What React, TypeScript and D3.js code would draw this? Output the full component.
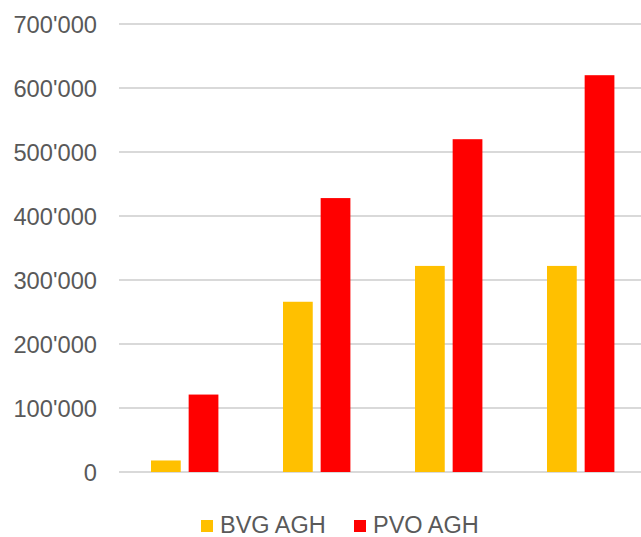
import React from "react";
import * as d3 from "d3";

const categories = ["A", "B", "C", "D"];
const seriesNames = ["BVG AGH", "PVO AGH"];
const bvgValues = [18000, 266000, 322000, 322000];
const pvoValues = [121000, 428000, 520000, 620000];
const yTicks = [0, 100000, 200000, 300000, 400000, 500000, 600000, 700000];
const colors = ["#FFC000", "#FF0000"];

const W = 641;
const H = 537;

export default function App() {
  const y = d3.scaleLinear().domain([0, 700000]).range([472, 24]);
  const x = d3.scaleBand<string>().domain(categories).range([119, 647]).paddingInner(0).paddingOuter(0);
  const inner = d3.scaleBand<string>().domain(seriesNames).range([32, 99.4]).paddingInner(0.21);
  const fmt = (v: number) => d3.format(",")(v).replace(/,/g, "'");
  const series = [bvgValues, pvoValues];
  const font = "'Liberation Sans', Arial, sans-serif";
  return (
    <svg width={W} height={H} style={{ position: "absolute", left: 0, top: 0 }}>
      <rect width={W} height={H} fill="#fff" />
      {yTicks.map((t) => (
        <g key={t}>
          <line x1={119} x2={641} y1={y(t)} y2={y(t)} stroke="#d9d9d9" strokeWidth={2} />
          <text x={97} y={y(t) + 8.5} textAnchor="end" fontFamily={font} fontSize={23.7} fill="#595959">
            {fmt(t)}
          </text>
        </g>
      ))}
      {series.map((vals, si) =>
        vals.map((v, i) => (
          <rect
            key={`${si}-${i}`}
            x={(x(categories[i]) as number) + (inner(seriesNames[si]) as number)}
            width={inner.bandwidth()}
            y={y(v)}
            height={y(0) - y(v)}
            fill={colors[si]}
          />
        ))
      )}
      {seriesNames.map((n, i) => {
        const lx = [201, 354][i];
        return (
          <g key={n}>
            <rect x={lx} y={520} width={12} height={12} fill={colors[i]} />
            <text x={lx + 19} y={533} fontFamily={font} fontSize={23.5} fill="#595959">
              {n}
            </text>
          </g>
        );
      })}
    </svg>
  );
}
